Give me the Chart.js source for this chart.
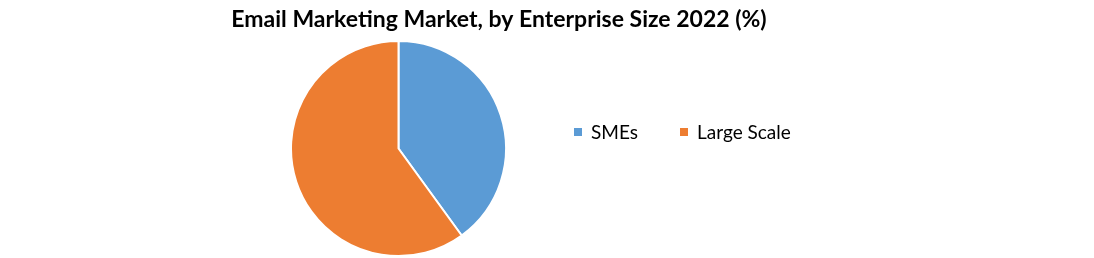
<!DOCTYPE html>
<html>
<head>
<meta charset="utf-8">
<script src="https://cdn.jsdelivr.net/npm/chart.js@4/dist/chart.umd.min.js"></script>
<style>
html,body{margin:0;padding:0;background:#fff;}
#wrap{width:1094px;height:258px;position:relative;}
</style>
</head>
<body>
<div id="wrap"><canvas id="c" width="1094" height="258"></canvas></div>
<script>
const titleText = "Email Marketing Market, by Enterprise Size 2022 (%)";
const categories = ["SMEs", "Large Scale"];
const shares = [40, 60];
const colors = ["#5B9BD5", "#ED7D31"];

const FONT = "Lato, 'Open Sans', sans-serif";

const overlay = {
  id: 'overlay',
  afterDraw(chart) {
    const ctx = chart.ctx;
    ctx.save();
    ctx.fillStyle = '#000';
    ctx.font = "bold 23px " + FONT;
    ctx.textAlign = 'center';
    ctx.textBaseline = 'alphabetic';
    ctx.fillText(titleText, 499, 27);
    // legend
    const items = [{x: 574}, {x: 680}];
    ctx.font = "19px " + FONT;
    ctx.textAlign = 'left';
    chart.data.labels.forEach((lab, i) => {
      const x = items[i].x;
      ctx.fillStyle = chart.data.datasets[0].backgroundColor[i];
      ctx.fillRect(x, 128, 8, 8);
      ctx.fillStyle = '#000';
      ctx.fillText(lab, x + 17, 138.5);
    });
    ctx.restore();
  }
};

new Chart(document.getElementById('c'), {
  type: 'pie',
  data: {
    labels: categories,
    datasets: [{
      data: shares,
      backgroundColor: colors,
      borderColor: '#ffffff',
      borderWidth: 2,
      hoverBorderWidth: 2,
      hoverOffset: 0
    }]
  },
  options: {
    responsive: false,
    animation: false,
    events: [],
    layout: { padding: { left: 290, right: 587, top: 40, bottom: 1 } },
    plugins: {
      legend: { display: false },
      title: { display: false },
      tooltip: { enabled: false }
    }
  },
  plugins: [overlay]
});
</script>
</body>
</html>
